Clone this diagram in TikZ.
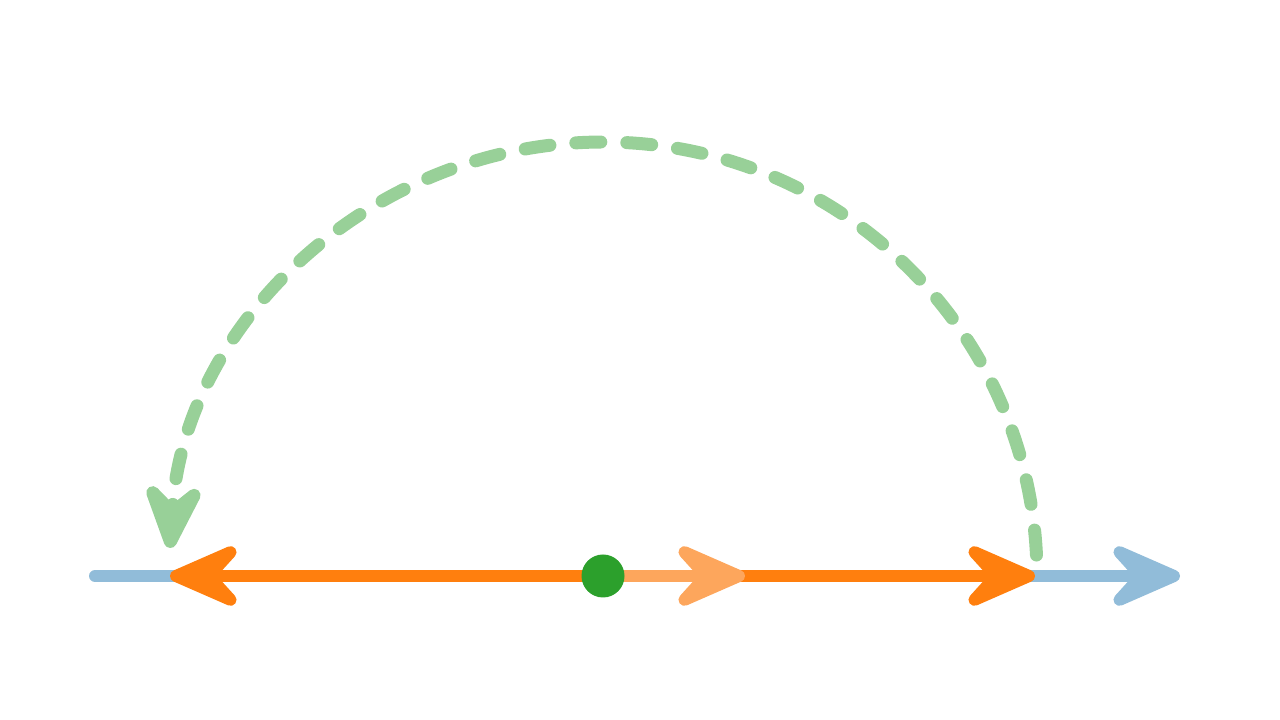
\documentclass[tikz,border=0pt]{standalone}
\usetikzlibrary{arrows.meta}
\definecolor{lblue}{RGB}{145,188,217}
\definecolor{orng}{RGB}{255,127,14}
\definecolor{lorng}{RGB}{253,166,92}
\definecolor{dgreen}{RGB}{44,160,44}
\definecolor{lgreen}{RGB}{152,208,152}
\tikzset{
  bigtip/.tip={Stealth[length=92pt,width=80pt,inset=36pt,round]},
  tip/.style={-{bigtip}},
  both tip/.style={{bigtip}-{bigtip}},
  seg/.style={line width=12pt,line cap=round},
}
\begin{document}
\begin{tikzpicture}[x=1pt,y=1pt]
\useasboundingbox (0,0) rectangle (1280,720);
\coordinate (bl) at (95,144);
\coordinate (br) at (1180,144);
\coordinate (ol) at (170,144);
\coordinate (or) at (1035,144);
\coordinate (lo) at (745,144);
\coordinate (c) at (603,144);
\draw[seg,lblue,tip] (bl) -- (br);
\draw[seg,orng,both tip] (ol) -- (or);
\draw[seg,lorng,tip] (c) -- (lo);
\node[circle,fill=dgreen,minimum size=43pt,inner sep=0pt] (dot) at (c) {};
\draw[line width=13pt,line cap=round,lgreen,dash pattern=on 25pt off 26pt,
  -{Stealth[length=88pt,width=76pt,inset=34pt,round]}]
  ([shift={(2.77:434)}]c) arc[start angle=2.77,end angle=176.3,radius=434];
\end{tikzpicture}
\end{document}
